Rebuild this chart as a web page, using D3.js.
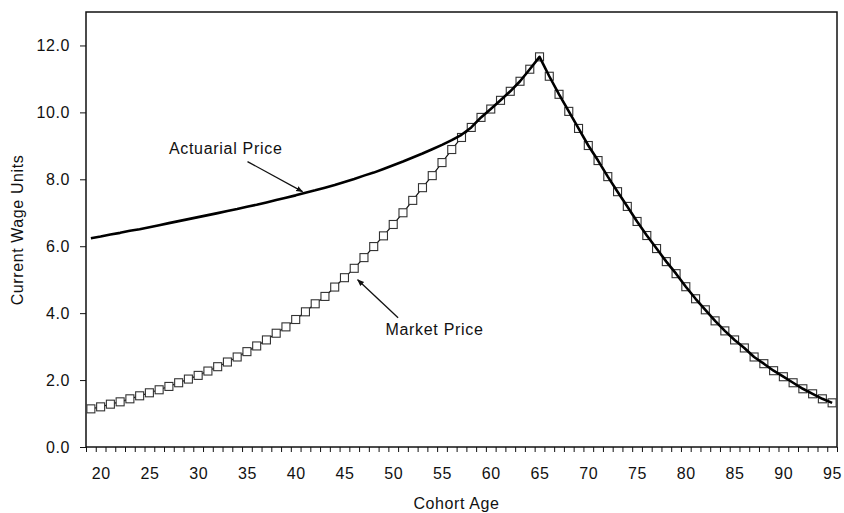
<!DOCTYPE html>
<html>
<head>
<meta charset="utf-8">
<script src="https://cdn.jsdelivr.net/npm/d3@7"></script>
<style>
  body { margin: 0; background: #fff; }
  text { font-family: "Liberation Sans", Arial, Helvetica, sans-serif; fill: #111; }
</style>
</head>
<body>
<div id="chart"></div>
<script>
// Cohort ages 19..95
const ages = d3.range(19, 96);

// Market price (square markers), one value per age 19..95
const marketPrice = [
  1.14, 1.20, 1.28, 1.35, 1.44, 1.53, 1.62, 1.71, 1.81, 1.92,
  2.03, 2.14, 2.27, 2.40, 2.54, 2.69, 2.85, 3.02, 3.20, 3.40,
  3.59, 3.81, 4.04, 4.28, 4.50, 4.78, 5.06, 5.34, 5.66, 5.99,
  6.31, 6.65, 7.00, 7.37, 7.75, 8.11, 8.50, 8.89, 9.25, 9.55,
  9.85, 10.10, 10.36, 10.63, 10.93, 11.29, 11.66, 11.08, 10.54, 10.03,
  9.52, 9.01, 8.56, 8.08, 7.63, 7.19, 6.74, 6.32, 5.93, 5.54,
  5.18, 4.79, 4.43, 4.10, 3.77, 3.47, 3.20, 2.96, 2.69, 2.49,
  2.28, 2.10, 1.92, 1.74, 1.59, 1.44, 1.32
];

// Actuarial price for ages 19..57; from 58 on it runs on the market curve
const actuarialEarly = [
  6.24, 6.29, 6.35, 6.40, 6.46, 6.51, 6.57, 6.63, 6.69, 6.75,
  6.81, 6.87, 6.93, 6.99, 7.05, 7.11, 7.18, 7.24, 7.31, 7.38,
  7.45, 7.52, 7.60, 7.67, 7.75, 7.83, 7.92, 8.01, 8.11, 8.20,
  8.31, 8.42, 8.53, 8.65, 8.77, 8.90, 9.03, 9.17, 9.33
];

const yTicks = [0, 2, 4, 6, 8, 10, 12];
const xLabelTicks = [20, 25, 30, 35, 40, 45, 50, 55, 60, 65, 70, 75, 80, 85, 90, 95];

// annotations in data units: [label age, label value, tail age, tail value, tip age, tip value]
const notes = [
  { text: 'Actuarial Price', lx: 27.0, ly: 8.77, x1: 35.06, y1: 8.53, x2: 40.7, y2: 7.63 },
  { text: 'Market Price', lx: 49.2, ly: 3.36, x1: 50.5, y1: 3.86, x2: 46.35, y2: 5.0 }
];

const W = 844, H = 513;
const margin = { top: 12, right: 7, bottom: 66, left: 86 };
const width = W - margin.left - margin.right;
const height = H - margin.top - margin.bottom;

const svg = d3.select('#chart').append('svg')
  .attr('width', W)
  .attr('height', H);

const chart = svg.append('g')
  .attr('transform', `translate(${margin.left}, ${margin.top})`);

const x = d3.scaleLinear().domain([18.5, 95.5]).range([0, width]);
const y = d3.scaleLinear().domain([0, 13]).range([height, 0]);

// y axis
const yAxis = chart.append('g')
  .call(d3.axisLeft(y).tickValues(yTicks).tickFormat(d3.format('.1f')).tickSize(6).tickPadding(10));
yAxis.selectAll('text').style('font-size', '16px').style('letter-spacing', '0.6px');
yAxis.select('.domain').remove();
yAxis.selectAll('line').attr('stroke', '#111');

// x axis: small ticks between ages, labels every 5 years
const xTickAxis = chart.append('g')
  .attr('transform', `translate(0, ${height})`)
  .call(d3.axisBottom(x).tickValues(d3.range(18.5, 96, 1)).tickFormat('').tickSize(5));
xTickAxis.select('.domain').remove();
xTickAxis.selectAll('line').attr('stroke', '#111');

const xLabelAxis = chart.append('g')
  .attr('transform', `translate(0, ${height})`)
  .call(d3.axisBottom(x).tickValues(xLabelTicks).tickFormat(d3.format('d')).tickSize(0).tickPadding(21));
xLabelAxis.select('.domain').remove();
xLabelAxis.selectAll('text').style('font-size', '16px').style('letter-spacing', '0.6px');

// plot frame
chart.append('rect')
  .attr('x', 0).attr('y', 0)
  .attr('width', width).attr('height', height)
  .attr('fill', 'none')
  .attr('stroke', '#111')
  .attr('stroke-width', 1.5);

// market price line + markers
const marketData = ages.map((a, i) => ({ age: a, v: marketPrice[i] }));
const line = d3.line().x(d => x(d.age)).y(d => y(d.v));

chart.append('path')
  .datum(marketData)
  .attr('fill', 'none')
  .attr('stroke', '#111')
  .attr('stroke-width', 1.2)
  .attr('d', line);

const ms = 8;
chart.selectAll('.mk')
  .data(marketData)
  .enter()
  .append('rect')
  .attr('class', 'mk')
  .attr('x', d => x(d.age) - ms / 2)
  .attr('y', d => y(d.v) - ms / 2)
  .attr('width', ms)
  .attr('height', ms)
  .attr('fill', '#fff')
  .attr('stroke', '#333')
  .attr('stroke-width', 1.1);

// actuarial price line (joins the market curve at 58)
const actuarialData = ages.map((a, i) => ({
  age: a,
  v: i < actuarialEarly.length ? actuarialEarly[i] : marketPrice[i]
}));

chart.append('path')
  .datum(actuarialData)
  .attr('fill', 'none')
  .attr('stroke', '#000')
  .attr('stroke-width', 2.6)
  .attr('stroke-linejoin', 'round')
  .attr('d', line);

// arrowhead
svg.append('defs').append('marker')
  .attr('id', 'arrow')
  .attr('viewBox', '0 0 10 10')
  .attr('refX', 9).attr('refY', 5)
  .attr('markerWidth', 7).attr('markerHeight', 7)
  .attr('markerUnits', 'userSpaceOnUse')
  .attr('orient', 'auto')
  .append('path')
  .attr('d', 'M0,1 L10,5 L0,9 Z')
  .attr('fill', '#111');

chart.selectAll('.note-arrow')
  .data(notes)
  .enter()
  .append('line')
  .attr('class', 'note-arrow')
  .attr('x1', d => x(d.x1)).attr('y1', d => y(d.y1))
  .attr('x2', d => x(d.x2)).attr('y2', d => y(d.y2))
  .attr('stroke', '#111')
  .attr('stroke-width', 1.3)
  .attr('marker-end', 'url(#arrow)');

chart.selectAll('.note-label')
  .data(notes)
  .enter()
  .append('text')
  .attr('class', 'note-label')
  .attr('x', d => x(d.lx))
  .attr('y', d => y(d.ly))
  .style('font-size', '16px')
  .style('letter-spacing', '0.7px')
  .text(d => d.text);

// axis titles
svg.append('text')
  .attr('x', margin.left + width / 2 - 5)
  .attr('y', 509)
  .attr('text-anchor', 'middle')
  .style('font-size', '16px')
  .style('letter-spacing', '0.6px')
  .text('Cohort Age');

svg.append('text')
  .attr('transform', 'translate(23, 230) rotate(-90)')
  .attr('text-anchor', 'middle')
  .style('font-size', '16px')
  .style('letter-spacing', '0.6px')
  .text('Current Wage Units');
</script>
</body>
</html>
